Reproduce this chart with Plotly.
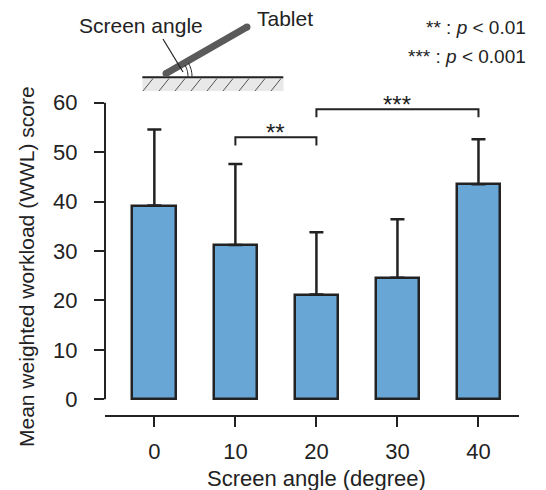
import math
import plotly.graph_objects as go

# ---- data ----
angles = [0, 10, 20, 30, 40]
mean_wwl = [39.2, 31.2, 21.2, 24.6, 43.5]
upper_wwl = [54.6, 47.6, 33.8, 36.4, 52.6]   # top of error bar
err_up = [u - m for u, m in zip(upper_wwl, mean_wwl)]
y_ticks = [0, 10, 20, 30, 40, 50, 60]
sig_pairs = [(10, 20, 53.0, "**"), (20, 40, 58.7, "***")]

W, H = 546, 490
L, R, T, B = 105, 27, 90, 75
PW, PH = W - L - R, H - T - B
FONT = "Liberation Sans, Arial, sans-serif"
INK = "#222222"


def X(px):
    return (px - L) / PW


def Y(py):
    return (T + PH - py) / PH


fig = go.Figure()
fig.add_trace(go.Bar(
    x=angles, y=mean_wwl, width=5.4,
    marker=dict(color="#68A6D5", line=dict(color=INK, width=2.5)),
    error_y=dict(type="data", symmetric=False, array=err_up,
                 arrayminus=[0] * len(err_up), color=INK, thickness=2.5, width=7),
    showlegend=False,
))

shapes = []
# y axis line only over 0..60
shapes.append(dict(type="line", xref="paper", yref="y", x0=0, x1=0, y0=0, y1=60,
                   line=dict(color=INK, width=2)))
# significance brackets
annotations = []
for a, b, yv, lab in sig_pairs:
    leg = 1.65
    shapes.append(dict(type="path", xref="x", yref="y",
                       path=f"M {a} {yv-leg} L {a} {yv} L {b} {yv} L {b} {yv-leg}",
                       line=dict(color=INK, width=2)))
    annotations.append(dict(x=(a + b) / 2, y=yv + 0.9, xref="x", yref="y", text=lab,
                            showarrow=False, yanchor="middle",
                            font=dict(family=FONT, size=24, color=INK)))

# ---- tablet illustration ----
shapes.append(dict(type="rect", xref="paper", yref="paper", x0=X(142.5), x1=X(283.5),
                   y0=Y(91), y1=Y(78), fillcolor="#e8e8e8", line=dict(width=0)))
for i in range(9):
    bx = 143 + 16 * i
    shapes.append(dict(type="line", xref="paper", yref="paper", x0=X(bx), y0=Y(91),
                       x1=X(bx + 10), y1=Y(78.5), line=dict(color="#555555", width=1)))
shapes.append(dict(type="line", xref="paper", yref="paper", x0=X(142.3), x1=X(283.3),
                   y0=Y(77.3), y1=Y(77.3), line=dict(color=INK, width=2)))
tx0, ty0, tx1, ty1 = 166, 73.5, 247, 27
shapes.append(dict(type="line", xref="paper", yref="paper", x0=X(tx0), y0=Y(ty0),
                   x1=X(tx1), y1=Y(ty1), line=dict(color="#5a5a5a", width=7)))
for cx, cy in [(tx0, ty0), (tx1, ty1)]:
    shapes.append(dict(type="circle", xref="paper", yref="paper", x0=X(cx - 3.5), x1=X(cx + 3.5),
                       y0=Y(cy + 3.5), y1=Y(cy - 3.5), fillcolor="#5a5a5a", line=dict(width=0)))
for r in (23, 27):
    pts = []
    for k in range(0, 31, 3):
        t = math.radians(k)
        pts.append((X(165 + r * math.cos(t)), Y(76.5 - r * math.sin(t))))
    path = "M " + " L ".join(f"{px:.5f} {py:.5f}" for px, py in pts)
    shapes.append(dict(type="path", xref="paper", yref="paper", path=path,
                       line=dict(color=INK, width=1)))
shapes.append(dict(type="line", xref="paper", yref="paper", x0=X(163), y0=Y(39),
                   x1=X(183), y1=Y(72), line=dict(color=INK, width=1.2)))

annotations += [
    dict(x=X(140.5), y=Y(26), xref="paper", yref="paper", text="Screen angle",
         showarrow=False, xanchor="center", yanchor="middle",
         font=dict(family=FONT, size=21, color=INK)),
    dict(x=X(285), y=Y(18), xref="paper", yref="paper", text="Tablet",
         showarrow=False, xanchor="center", yanchor="middle",
         font=dict(family=FONT, size=21, color=INK)),
    dict(x=X(528), y=Y(28), xref="paper", yref="paper",
         text="** : <i>p</i> &lt; 0.01", showarrow=False, xanchor="right", yanchor="middle",
         font=dict(family=FONT, size=19, color=INK)),
    dict(x=X(528), y=Y(57), xref="paper", yref="paper",
         text="*** : <i>p</i> &lt; 0.001", showarrow=False, xanchor="right", yanchor="middle",
         font=dict(family=FONT, size=19, color=INK)),
    dict(x=X(316), y=Y(478), xref="paper", yref="paper", text="Screen angle (degree)",
         showarrow=False, xanchor="center", yanchor="middle",
         font=dict(family=FONT, size=22, color=INK)),
    dict(x=X(26), y=Y(267), xref="paper", yref="paper",
         text="Mean weighted workload (WWL) score", textangle=-90,
         showarrow=False, xanchor="center", yanchor="middle",
         font=dict(family=FONT, size=21, color=INK)),
]

y0px = 399.3
per = (399.3 - 102.7) / 60
ymin = -(T + PH - y0px) / per
ymax = (y0px - T) / per

fig.update_layout(
    width=W, height=H, margin=dict(l=L, r=R, t=T, b=B),
    paper_bgcolor="white", plot_bgcolor="white",
    font=dict(family=FONT, size=22, color=INK),
    shapes=shapes, annotations=annotations,
    xaxis=dict(range=[-6.09, 45.0], tickvals=angles, ticktext=[str(a) for a in angles],
               ticks="outside", ticklen=10, tickwidth=2, tickcolor=INK,
               showline=True, linewidth=2, linecolor=INK, showgrid=False, zeroline=False,
               tickfont=dict(family=FONT, size=22, color=INK), ticklabelstandoff=6),
    yaxis=dict(range=[ymin, ymax], tickvals=y_ticks, ticks="outside", ticklen=10,
               tickwidth=2, tickcolor=INK, showline=False, showgrid=False, zeroline=False,
               tickfont=dict(family=FONT, size=22, color=INK), ticklabelstandoff=12),
    bargap=0,
)

fig.write_html("out.html", config={"displayModeBar": False},
               post_script="document.body.style.margin='0';")
